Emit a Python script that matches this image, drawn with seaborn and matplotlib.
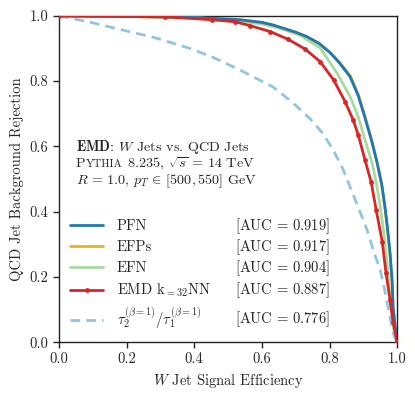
import matplotlib
matplotlib.use("Agg")
import matplotlib.pyplot as plt
import seaborn as sns
import pandas as pd

# ROC curves: signal efficiency vs background rejection
pfn_x = [0, 0.1, 0.2, 0.3, 0.4, 0.5, 0.536, 0.6, 0.633, 0.7, 0.734, 0.77, 0.802, 0.83, 0.861,
         0.885, 0.905, 0.925, 0.941, 0.955, 0.964, 0.972, 0.979, 0.985, 0.988, 0.994, 1.0]
pfn_y = [1.0, 0.999, 0.998, 0.997, 0.995, 0.99, 0.988, 0.98, 0.972, 0.95, 0.936, 0.915, 0.887, 0.855, 0.813,
         0.755, 0.687, 0.615, 0.549, 0.48, 0.414, 0.345, 0.273, 0.19, 0.107, 0.05, 0.0]

efps_x = pfn_x
efps_y = [1.0, 0.999, 0.998, 0.996, 0.994, 0.989, 0.987, 0.979, 0.971, 0.949, 0.935, 0.914, 0.887, 0.857, 0.817,
          0.76, 0.692, 0.618, 0.549, 0.478, 0.41, 0.34, 0.268, 0.185, 0.104, 0.048, 0.0]

efn_x = [0, 0.2, 0.4, 0.5, 0.6, 0.65, 0.7, 0.713, 0.772, 0.822, 0.861, 0.885, 0.905, 0.926, 0.94,
         0.95, 0.96, 0.967, 0.975, 0.982, 0.99, 1.0]
efn_y = [1.0, 0.998, 0.994, 0.988, 0.975, 0.963, 0.945, 0.94, 0.902, 0.825, 0.752, 0.69, 0.62, 0.549, 0.48,
         0.414, 0.34, 0.273, 0.19, 0.107, 0.04, 0.0]

emd_x = [0, 0.314, 0.453, 0.521, 0.565, 0.624, 0.678, 0.728, 0.772, 0.812, 0.846, 0.870, 0.885, 0.905,
         0.923, 0.938, 0.956, 0.967, 0.979, 0.988, 1.0]
emd_y = [1.0, 0.997, 0.988, 0.982, 0.970, 0.952, 0.928, 0.898, 0.860, 0.804, 0.737, 0.681, 0.635, 0.558,
         0.491, 0.405, 0.307, 0.212, 0.129, 0.061, 0.0]

tau_x = [0, 0.086, 0.186, 0.284, 0.382, 0.453, 0.536, 0.58, 0.633, 0.69, 0.743, 0.78, 0.811, 0.84, 0.861,
         0.89, 0.911, 0.93, 0.95, 0.963, 0.973, 0.982, 0.988, 0.995, 1.0]
tau_y = [1.0, 0.982, 0.957, 0.933, 0.902, 0.874, 0.834, 0.81, 0.782, 0.735, 0.684, 0.64, 0.589, 0.53, 0.475,
         0.40, 0.344, 0.28, 0.221, 0.16, 0.107, 0.06, 0.028, 0.01, 0.0]

labels = ["PFN", "EFPs", "EFN", r"EMD k$_{=32}$NN", r"$\tau_2^{(\beta=1)}/\tau_1^{(\beta=1)}$"]
aucs = [0.919, 0.917, 0.904, 0.887, 0.776]
colors = ["#1f78b4", "#e6b422", "#a6dba0", "#d62728", "#92c5de"]
zorders = [5, 4, 3, 6, 2]

sns.set_style("ticks")
plt.rcParams["font.family"] = ["cmr10", "DejaVu Serif"]
plt.rcParams["mathtext.fontset"] = "cm"
plt.rcParams["axes.unicode_minus"] = False
plt.rcParams["axes.formatter.use_mathtext"] = True

fig = plt.figure(figsize=(4.15, 3.96), dpi=100)
ax = fig.add_axes([0.142, 0.136, 0.815, 0.824])

curves = [(pfn_x, pfn_y), (efps_x, efps_y), (efn_x, efn_y), (emd_x, emd_y), (tau_x, tau_y)]
for i, (cx, cy) in enumerate(curves):
    df = pd.DataFrame({"x": cx, "y": cy})
    kw = dict(color=colors[i], lw=2, label=labels[i], sort=False, estimator=None, ax=ax,
              zorder=zorders[i])
    if i == 3:
        kw.update(marker="o", markersize=3.5, markeredgewidth=0)
    if i == 4:
        kw.update(linestyle=(0, (3.5, 2.2)))
    sns.lineplot(data=df, x="x", y="y", **kw)

ax.set_xlim(0, 1)
ax.set_ylim(0, 1)
ax.set_xticks([0, 0.2, 0.4, 0.6, 0.8, 1.0])
ax.set_yticks([0, 0.2, 0.4, 0.6, 0.8, 1.0])
ax.set_xticklabels(["0.0", "0.2", "0.4", "0.6", "0.8", "1.0"])
ax.set_yticklabels(["0.0", "0.2", "0.4", "0.6", "0.8", "1.0"])
ax.tick_params(labelsize=10.5, length=4, width=1, direction="out")
ax.set_xlabel(r"$W$ Jet Signal Efficiency", fontsize=10.5)
ax.set_ylabel("QCD Jet Background Rejection", fontsize=10.5)
for s in ax.spines.values():
    s.set_linewidth(1)
    s.set_color("#222222")

# legend: put the lines in the same order as the reference
handles, labs = ax.get_legend_handles_labels()
leg = ax.legend(handles, labs, loc="lower left", bbox_to_anchor=(0.0, 0.0), frameon=False,
                fontsize=10.5, handlelength=2.3, handletextpad=0.9, labelspacing=0.48,
                borderaxespad=0.35)
fig.canvas.draw()
for txt, auc in zip(leg.get_texts(), aucs):
    bb = txt.get_window_extent().transformed(ax.transData.inverted())
    ax.text(0.522, (bb.y0 + bb.y1) / 2, r"$[\mathrm{AUC}\,=\,%.3f]$" % auc, fontsize=10.5,
            va="center", ha="left")

# annotation block
fs = 10.2
ax.text(0.05, 0.586, r"$\mathbf{EMD}$: $W$ Jets vs. QCD Jets", fontsize=fs, va="baseline")
t2 = ax.text(0.05, 0.537, "P", fontsize=fs, va="baseline")
fig.canvas.draw()
x_end = ax.transAxes.inverted().transform(t2.get_window_extent().get_points())[1][0]
t3 = ax.text(x_end + 0.003, 0.537, "YTHIA", fontsize=fs * 0.78, va="baseline")
fig.canvas.draw()
x_end = ax.transAxes.inverted().transform(t3.get_window_extent().get_points())[1][0]
ax.text(x_end, 0.537, r" 8.235, $\sqrt{s}\, =\, 14$ TeV", fontsize=fs, va="baseline")
ax.text(0.05, 0.485, r"$R\, =\, 1.0$, $p_T\, \in\, [500, 550]$ GeV", fontsize=fs, va="baseline")

fig.savefig("out.png", dpi=100)
